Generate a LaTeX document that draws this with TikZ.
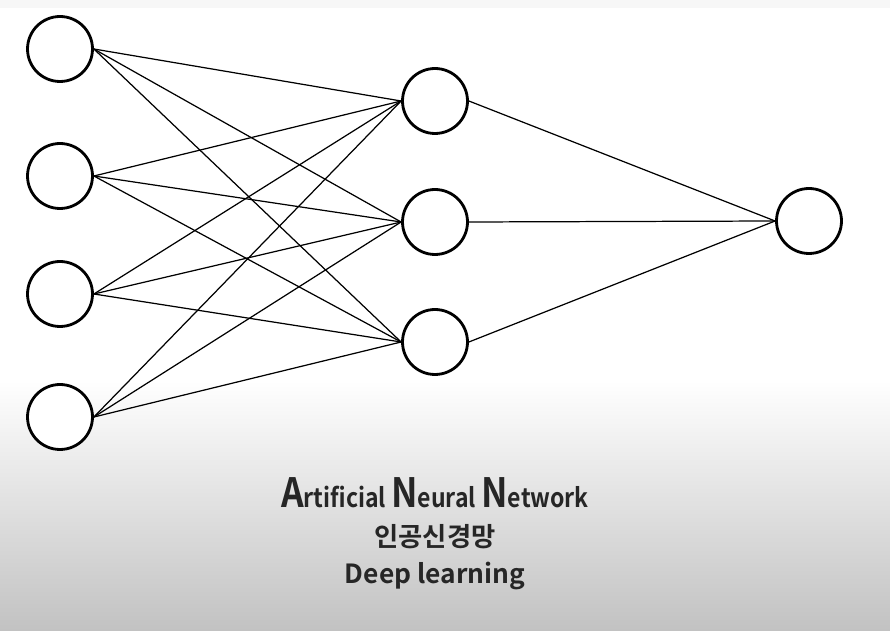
\documentclass[tikz,border=0pt]{standalone}
\usepackage{fontspec}
\setmainfont{Noto Sans CJK KR}[BoldFont={* Bold}]
\newfontfamily\narrowfont{Noto Sans CJK KR}[BoldFont={* Bold},FakeStretch=0.875]
\tikzset{
  neuron/.style={circle,draw,line width=1.6pt,minimum size=1.3cm,inner sep=0pt,fill=white},
  title/.style={font=\bfseries,text=black!85},
}
\begin{document}
\begin{tikzpicture}[x=0.02cm,y=-0.02cm]
      \useasboundingbox (0,0) rectangle (890,631);
      \fill[white] (0,0) rectangle (890,380);
      \fill[black!3] (0,0) rectangle (890,8);
      \shade[top color=white,bottom color=black!24] (0,380) rectangle (890,631);
      \draw
        (60,49) node[neuron] (i1){}
        (60,176) node[neuron] (i2){}
        (60,294) node[neuron] (i3){}
        (60,417) node[neuron] (i4){}
        (435,101) node[neuron] (h1){}
        (435,222) node[neuron] (h2){}
        (435,342) node[neuron] (h3){}
        (809,221) node[neuron] (o){};
      \begin{scope}[-,line width=0.7pt]
        \draw (i1.east) to (h1.west);
        \draw (i1.east) to (h2.west);
        \draw (i1.east) to (h3.west);
        \draw (i2.east) to (h1.west);
        \draw (i2.east) to (h2.west);
        \draw (i2.east) to (h3.west);
        \draw (i3.east) to (h1.west);
        \draw (i3.east) to (h2.west);
        \draw (i3.east) to (h3.west);
        \draw (i4.east) to (h1.west);
        \draw (i4.east) to (h2.west);
        \draw (i4.east) to (h3.west);
        \draw (h1.east) to (o.west);
        \draw (h2.east) to (o.west);
        \draw (h3.east) to (o.west);
      \end{scope}
      \node[title,font=\narrowfont\bfseries\fontsize{15}{15}\selectfont] (ann) at (435,493)
        {{\fontsize{23}{23}\selectfont A}rtificial {\fontsize{23}{23}\selectfont N}eural {\fontsize{23}{23}\selectfont N}etwork};
      \node[title,font=\bfseries\fontsize{15}{15}\selectfont] (kor) at (435,537) {인공신경망};
      \node[title,font=\bfseries\fontsize{15}{15}\selectfont] (deep) at (435,576) {Deep learning};
\end{tikzpicture}
\end{document}
